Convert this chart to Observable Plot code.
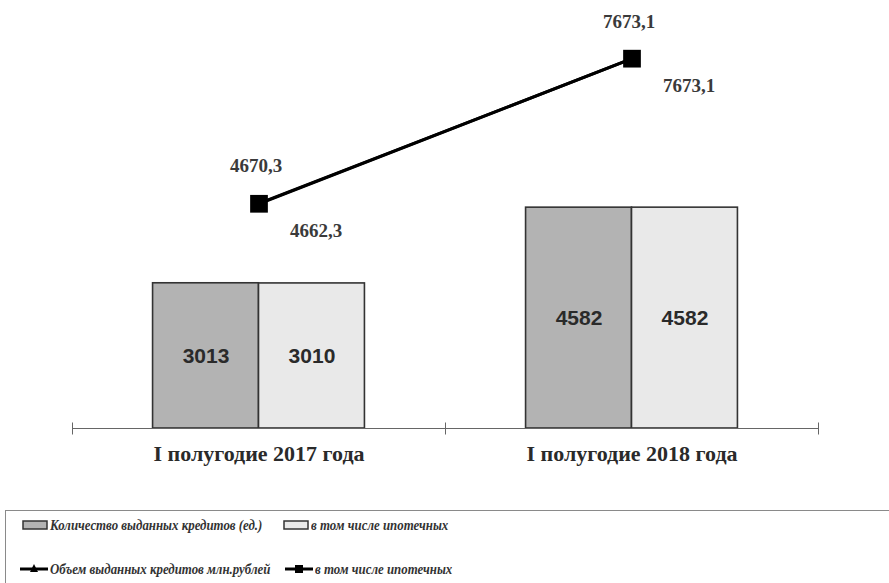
<!DOCTYPE html>
<html><head><meta charset="utf-8">
<script src="https://cdn.jsdelivr.net/npm/d3@7"></script>
<script src="https://cdn.jsdelivr.net/npm/@observablehq/plot@0.6"></script>
<style>
body{margin:0;background:#fff;width:889px;height:583px;overflow:hidden;position:relative}
#chart{position:absolute;left:0;top:0}
#legend{position:absolute;left:5px;top:510px;width:900px;height:100px;border:1.5px solid #8a8a8a;box-sizing:border-box;font-family:"Liberation Serif",serif;font-weight:bold;font-style:italic;font-size:15.5px;color:#333}
.item{position:absolute;display:flex;align-items:center;white-space:nowrap}
.item svg{margin-right:2px;flex:none}
.item span{display:inline-block;transform:scaleX(0.83);transform-origin:left center}
</style></head><body>
<div id="chart"></div>
<div id="legend"></div>
<script>
const periods = ["I полугодие 2017 года", "I полугодие 2018 года"];
const loansCount = [3013, 4582];
const mortgageCount = [3010, 4582];
const loansVolume = [4670.3, 7673.1];
const mortgageVolume = [4662.3, 7673.1];
const seriesNames = [
  "Количество выданных кредитов (ед.)",
  "в том числе ипотечных",
  "Объем выданных кредитов млн.рублей",
  "в том числе ипотечных"
];

const fmt = v => String(v).replace(".", ",");
const barW = 0.284;
const bars = [];
periods.forEach((p, i) => {
  bars.push({p, pos: i + 0.5, value: loansCount[i], s: 0, x1: i + 0.5 - barW, x2: i + 0.5});
  bars.push({p, pos: i + 0.5, value: mortgageCount[i], s: 1, x1: i + 0.5, x2: i + 0.5 + barW});
});
const vol = periods.map((p, i) => ({p, pos: i + 0.5, v: loansVolume[i]}));
const mort = periods.map((p, i) => ({p, pos: i + 0.5, v: mortgageVolume[i]}));
const fills = ["#b3b3b3", "#e9e9e9"];
const tickSymbol = {draw(ctx) { ctx.moveTo(0, -6); ctx.lineTo(0, 6); }};

const chart = Plot.plot({
  width: 889, height: 470,
  marginLeft: 72, marginRight: 71, marginTop: 0, marginBottom: 42,
  x: {domain: [0, periods.length], axis: null},
  y: {domain: [0, 8880], axis: null},
  marks: [
    Plot.rectY(bars, {x1: "x1", x2: "x2", y: "value", fill: d => fills[d.s], stroke: "#333", strokeWidth: 1.6}),
    Plot.text(bars, {x: d => (d.x1 + d.x2) / 2, y: d => d.value / 2, text: d => String(d.value),
      fontFamily: "Liberation Sans", fontWeight: "bold", fontSize: 21, fill: "#2a2a2a"}),
    Plot.ruleY([0], {stroke: "#666", strokeWidth: 1}),
    Plot.dot(d3.range(periods.length + 1), {x: d => d, y: 0, symbol: tickSymbol, stroke: "#666", strokeWidth: 1}),
    Plot.text(periods.map((p, i) => ({p, pos: i + 0.5})), {x: "pos", y: 0, dy: 25, text: "p",
      fontFamily: "Liberation Serif", fontWeight: "bold", fontSize: 22, fill: "#2a2a2a"}),
    Plot.line(vol, {x: "pos", y: "v", stroke: "#000", strokeWidth: 3}),
    Plot.dot(vol, {x: "pos", y: "v", symbol: "triangle", r: 5, fill: "#000"}),
    Plot.line(mort, {x: "pos", y: "v", stroke: "#000", strokeWidth: 3}),
    Plot.dot(mort, {x: "pos", y: "v", symbol: "square", r: 10, fill: "#000"}),
    Plot.text(vol, {x: "pos", y: "v", dy: -37, dx: -3, text: d => fmt(d.v),
      fontFamily: "Liberation Serif", fontWeight: "bold", fontSize: 19, fill: "#3a3a3a"}),
    Plot.text(mort, {x: "pos", y: "v", dy: 27, dx: 57, text: d => fmt(d.v),
      fontFamily: "Liberation Serif", fontWeight: "bold", fontSize: 19, fill: "#3a3a3a"})
  ]
});
document.getElementById("chart").appendChild(chart);

const legend = document.getElementById("legend");
const rectSw = f => `<svg width="26" height="10"><rect x="1" y="1" width="24" height="8" fill="${f}" stroke="#333" stroke-width="1.5"/></svg>`;
const lineSw = sq => `<svg width="28" height="12"><line x1="0" y1="6" x2="28" y2="6" stroke="#000" stroke-width="3"/>` +
  (sq ? `<rect x="10" y="2" width="8" height="8" fill="#000"/>` : `<path d="M14,1 L18,9 L10,9 Z" fill="#000"/>`) + `</svg>`;
const items = [
  {left: 16, top: 5, sw: rectSw(fills[0]), t: seriesNames[0]},
  {left: 277, top: 5, sw: rectSw(fills[1]), t: seriesNames[1]},
  {left: 14, top: 49, sw: lineSw(false), t: seriesNames[2]},
  {left: 279, top: 49, sw: lineSw(true), t: seriesNames[3]}
];
items.forEach(it => {
  const d = document.createElement("div");
  d.className = "item";
  d.style.left = it.left + "px";
  d.style.top = it.top + "px";
  d.innerHTML = it.sw + `<span>${it.t}</span>`;
  legend.appendChild(d);
});
</script>
</body></html>
